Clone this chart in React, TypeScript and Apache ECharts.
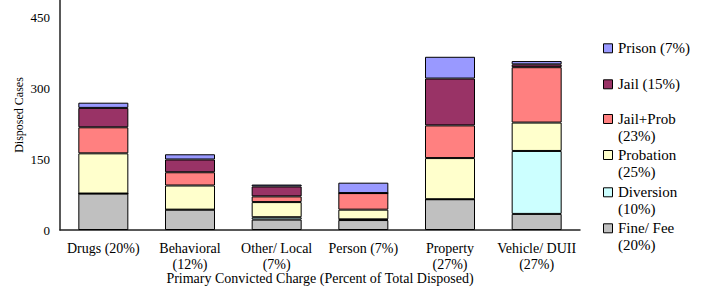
import React, { useEffect, useRef } from "react";
import * as echarts from "echarts";

const categories = [
  "Drugs (20%)",
  "Behavioral\n(12%)",
  "Other/ Local\n(7%)",
  "Person (7%)",
  "Property\n(27%)",
  "Vehicle/ DUII\n(27%)",
];
const fineFee = [77, 43, 22, 21, 65, 34];
const diversion = [0, 0, 5, 1.5, 0, 133];
const probation = [85, 51, 32, 20.5, 87, 60];
const jailProb = [55, 28, 12, 35, 69, 117];
const jail = [41, 27, 21, 0, 99, 6];
const prison = [11, 11, 4, 22, 46, 7];

const seriesNames = [
  "Fine/ Fee\n(20%)",
  "Diversion\n(10%)",
  "Probation\n(25%)",
  "Jail+Prob\n(23%)",
  "Jail (15%)",
  "Prison (7%)",
];
const seriesColors = ["#C0C0C0", "#CCFFFF", "#FFFFCC", "#FF8080", "#993366", "#9999FF"];
const seriesData = [fineFee, diversion, probation, jailProb, jail, prison];
const yTicks = [0, 150, 300, 450];

const FONT = "Liberation Serif";

export default function App() {
  const ref = useRef<HTMLDivElement>(null);
  useEffect(() => {
    if (!ref.current) return;
    const chart = echarts.init(ref.current, undefined, { renderer: "svg" });
    const legendCenters = [228.3, 192.3, 155, 119, 84.3, 48.3];
    const lineH = 17;
    const legendGraphics: any[] = [];
    seriesNames.forEach((name, i) => {
      const c = legendCenters[i];
      legendGraphics.push({
        type: "rect",
        shape: { x: 603.5, y: c - 4.5, width: 9, height: 9 },
        style: { fill: seriesColors[i], stroke: "#000", lineWidth: 1 },
        silent: true,
      });
      legendGraphics.push({
        type: "text",
        x: 618,
        y: c - lineH / 2,
        style: {
          text: name,
          font: "15px 'Liberation Serif'",
          fontFamily: FONT,
          fontSize: 15,
          lineHeight: lineH,
          fill: "#000",
          align: "left",
          verticalAlign: "top",
        },
        silent: true,
      });
    });
    chart.setOption({
      animation: false,
      backgroundColor: "#fff",
      textStyle: { fontFamily: FONT },
      grid: {
        left: 60,
        right: 127,
        top: 0,
        bottom: 59,
        containLabel: false,
        outerBoundsMode: "none",
      },
      graphic: legendGraphics,
      xAxis: {
        type: "category",
        data: categories,
        axisLine: { lineStyle: { color: "#222", width: 1.5 } },
        axisTick: { show: false },
        axisLabel: {
          fontFamily: FONT,
          fontSize: 14,
          color: "#000",
          lineHeight: 16,
          margin: 10,
          interval: 0,
        },
        name: "Primary Convicted Charge (Percent of Total Disposed)",
        nameLocation: "middle",
        nameGap: 41,
        nameMoveOverlap: false,
        nameTextStyle: { fontFamily: FONT, fontSize: 14, color: "#000" },
      },
      yAxis: {
        type: "value",
        min: yTicks[0],
        max: 486,
        interval: yTicks[1] - yTicks[0],
        splitLine: { show: false },
        axisLine: { show: true, lineStyle: { color: "#222", width: 1.5 } },
        axisTick: { show: false },
        axisLabel: {
          fontFamily: FONT,
          fontSize: 13,
          color: "#000",
          margin: 10,
          showMaxLabel: false,
        },
        name: "Disposed Cases",
        nameLocation: "middle",
        nameGap: 35,
        nameMoveOverlap: false,
        nameTextStyle: { fontFamily: FONT, fontSize: 12, color: "#000" },
      },
      series: seriesNames.map((name, i) => ({
        name,
        type: "bar",
        stack: "total",
        barWidth: 50,
        data: seriesData[i],
        itemStyle: { color: seriesColors[i], borderColor: "#000", borderWidth: 1 },
      })),
    });
    return () => chart.dispose();
  }, []);
  return (
    <div
      ref={ref}
      style={{ position: "fixed", left: 0, top: 0, width: 707, height: 289 }}
    />
  );
}
